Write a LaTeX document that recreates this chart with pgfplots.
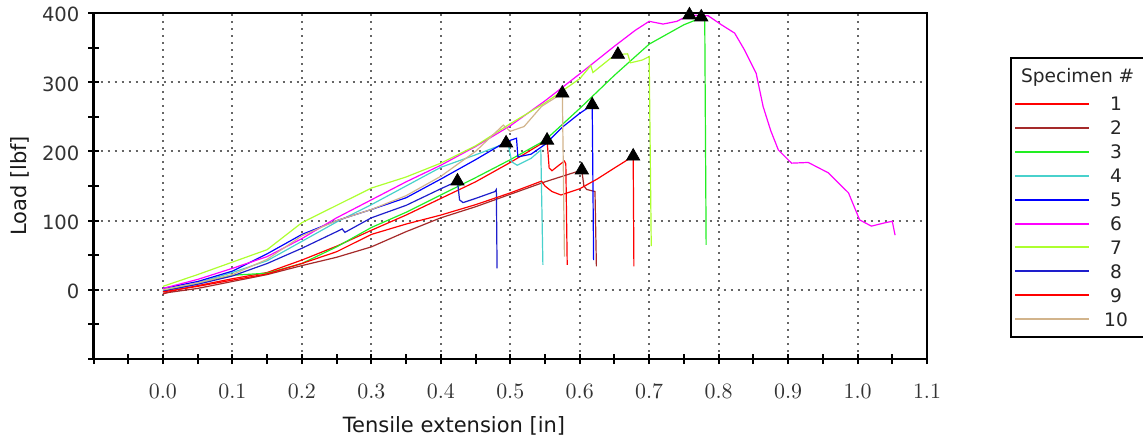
\documentclass[border=0pt]{standalone}
\usepackage[no-math]{fontspec}
\setmainfont{DejaVu Sans}
\usepackage{pgfplots}
\pgfplotsset{compat=1.18}
\definecolor{c1}{HTML}{FF0000}
\definecolor{c2}{HTML}{A52A2A}
\definecolor{c3}{HTML}{22EE22}
\definecolor{c4}{HTML}{48D1CC}
\definecolor{c5}{HTML}{0000FF}
\definecolor{c6}{HTML}{FF00FF}
\definecolor{c7}{HTML}{ADFF2F}
\definecolor{c8}{HTML}{1E1ECC}
\definecolor{c9}{HTML}{FF0000}
\definecolor{c10}{HTML}{D2B48C}
\begin{document}
\begin{tikzpicture}
\useasboundingbox (-46.75pt,-42pt) rectangle (524.75pt,179.5pt);
\begin{axis}[
  scale only axis, width=416.75pt, height=173pt,
  at={(0,0)}, anchor=south west,
  xmin=-0.1, xmax=1.1, ymin=-100, ymax=400,
  clip=false,
  xtick={-0.1,0,0.1,0.2,0.3,0.4,0.5,0.6,0.7,0.8,0.9,1.0,1.1},
  xticklabels={,$0.0$,$0.1$,$0.2$,$0.3$,$0.4$,$0.5$,$0.6$,$0.7$,$0.8$,$0.9$,$1.0$,$1.1$},
  minor xtick={-0.05,0.05,0.15,0.25,0.35,0.45,0.55,0.65,0.75,0.85,0.95,1.05},
  ytick={-100,0,100,200,300,400},
  yticklabels={,0,100,200,300,400},
  minor ytick={-50,50,150,250,350},
  grid=major,
  grid style={black!60, line width=1pt, dash pattern=on 1pt off 2.5pt},
  tick align=center, xtick pos=bottom, ytick pos=left,
  major tick length=5pt, minor tick length=5pt,
  every tick/.style={black, line width=1pt},
  axis line style={line width=1.2pt},
  xticklabel style={font=\fontsize{11}{12}\selectfont, anchor=center, yshift=-13.8pt, text=black!80},
  yticklabel style={font=\fontsize{9.8}{11}\selectfont, anchor=east, xshift=-1pt, yshift=-0.9pt, text=black!80},
  xlabel={Tensile extension [in]},
  ylabel={Load [lbf]},
  xlabel style={font=\fontsize{10.5}{12}\selectfont, at={(axis description cs:0.4325,-0.1936)}, anchor=center, text=black!90},
  ylabel style={font=\fontsize{10.5}{12}\selectfont, at={(axis description cs:-0.0882,0.5)}, anchor=center, rotate=0, text=black!90},
  legend image code/.code={\draw[#1, line width=1pt] (0pt,0pt) -- (37pt,0pt);},
  legend style={at={(1.0996,0.8728)}, anchor=north west, draw=black, line width=1pt,
    fill=white, inner xsep=1.5pt, inner ysep=5.3pt, row sep=5.1pt,
    cells={anchor=center},
    nodes={inner sep=0pt, text depth=0pt, font=\fontsize{9.3}{11}\selectfont, text=black!85}},
]
\addlegendimage{empty legend}
\addlegendentry{\makebox[26pt][l]{\hspace*{-34.5pt}\raisebox{2.2pt}{Specimen \#}}}

% 1
\addplot[c1, line width=0.6pt] coordinates {
(0,-6) (0.02,0) (0.05,6) (0.1,16) (0.15,25) (0.2,43) (0.25,63) (0.3,86) (0.35,108) (0.4,132) (0.45,156) (0.5,184) (0.553,216)
(0.556,176) (0.56,172) (0.57,180) (0.578,186) (0.58,182) (0.582,36)};
\addlegendentry{\makebox[26pt]{1}}
% 2
\addplot[c2, line width=0.6pt] coordinates {
(0,-5) (0.05,2) (0.1,12) (0.15,22) (0.2,35) (0.25,47) (0.3,62) (0.35,84) (0.4,104) (0.45,120) (0.5,138) (0.55,156) (0.603,173)
(0.606,150) (0.61,145) (0.622,142) (0.624,34)};
\addlegendentry{\makebox[26pt]{2}}
% 3
\addplot[c3, line width=0.6pt] coordinates {
(0,-2) (0.05,10) (0.1,21) (0.15,24) (0.2,38) (0.25,62) (0.3,90) (0.35,112) (0.4,137) (0.45,162) (0.5,188) (0.55,216)
(0.6,262) (0.65,310) (0.7,355) (0.75,383) (0.775,393) (0.78,392) (0.782,65)};
\addlegendentry{\makebox[26pt]{3}}
% 4
\addplot[c4, line width=0.6pt] coordinates {
(0,0) (0.05,10) (0.1,25) (0.15,42) (0.2,70) (0.25,98) (0.3,123) (0.35,150) (0.4,177) (0.45,195) (0.494,212)
(0.498,206) (0.502,185) (0.51,180) (0.53,190) (0.544,202) (0.547,36)};
\addlegendentry{\makebox[26pt]{4}}
% 5
\addplot[c5, line width=0.6pt] coordinates {
(0,2) (0.05,12) (0.1,27) (0.15,52) (0.2,80) (0.25,100) (0.3,116) (0.35,133) (0.4,160) (0.45,188) (0.494,214)
(0.509,219) (0.511,192) (0.53,196) (0.55,210) (0.575,235) (0.6,255) (0.618,267) (0.62,43)};
\addlegendentry{\makebox[26pt]{5}}
% 6
\addplot[c6, line width=0.6pt] coordinates {
(0,2) (0.05,15) (0.1,31) (0.15,48) (0.2,74) (0.25,104) (0.3,130) (0.35,156) (0.4,180) (0.45,207) (0.5,237) (0.55,273)
(0.6,312) (0.65,352) (0.68,375) (0.7,388) (0.72,384) (0.74,388) (0.758,397) (0.785,396) (0.804,383) (0.823,371)
(0.837,347) (0.854,313) (0.864,265) (0.875,230) (0.886,202) (0.905,183) (0.929,184) (0.958,169) (0.987,140)
(1.003,101) (1.02,92) (1.04,97) (1.05,99) (1.054,79)};
\addlegendentry{\makebox[26pt]{6}}
% 7
\addplot[c7, line width=0.6pt] coordinates {
(0,5) (0.05,22) (0.1,40) (0.15,58) (0.2,97) (0.25,122) (0.3,147) (0.35,163) (0.4,183) (0.45,208) (0.5,240) (0.55,270)
(0.6,305) (0.616,324) (0.619,314) (0.645,335) (0.655,340) (0.669,341) (0.673,328) (0.69,332) (0.7,337) (0.703,63)};
\addlegendentry{\makebox[26pt]{7}}
% 8
\addplot[c8, line width=0.6pt] coordinates {
(0,-2) (0.05,8) (0.1,20) (0.15,38) (0.2,60) (0.25,84) (0.258,88) (0.262,83) (0.3,104) (0.35,122) (0.4,146) (0.424,157)
(0.427,130) (0.432,126) (0.45,132) (0.478,142) (0.48,145) (0.481,31)};
\addlegendentry{\makebox[26pt]{8}}
% 9
\addplot[c9, line width=0.6pt] coordinates {
(0,-3) (0.05,5) (0.1,14) (0.15,23) (0.2,38) (0.25,55) (0.3,80) (0.35,95) (0.4,108) (0.45,123) (0.5,140) (0.545,157)
(0.55,150) (0.56,142) (0.573,137) (0.6,146) (0.625,160) (0.65,176) (0.677,193) (0.678,34)};
\addlegendentry{\makebox[26pt]{9}}
% 10
\addplot[c10, line width=0.6pt] coordinates {
(0,0) (0.05,10) (0.1,22) (0.15,44) (0.2,78) (0.25,100) (0.3,116) (0.35,136) (0.4,164) (0.45,200) (0.49,238)
(0.5,229) (0.52,236) (0.545,265) (0.575,284) (0.578,48)};
\addlegendentry{\makebox[26pt]{10}}
% peak markers
\addplot[only marks, mark=triangle*, mark size=3.8pt, black, forget plot] coordinates {
(0.424,157) (0.494,212) (0.553,216) (0.575,284) (0.603,173) (0.618,267) (0.655,340) (0.677,193) (0.758,397) (0.775,394)};
\end{axis}
\end{tikzpicture}
\end{document}
